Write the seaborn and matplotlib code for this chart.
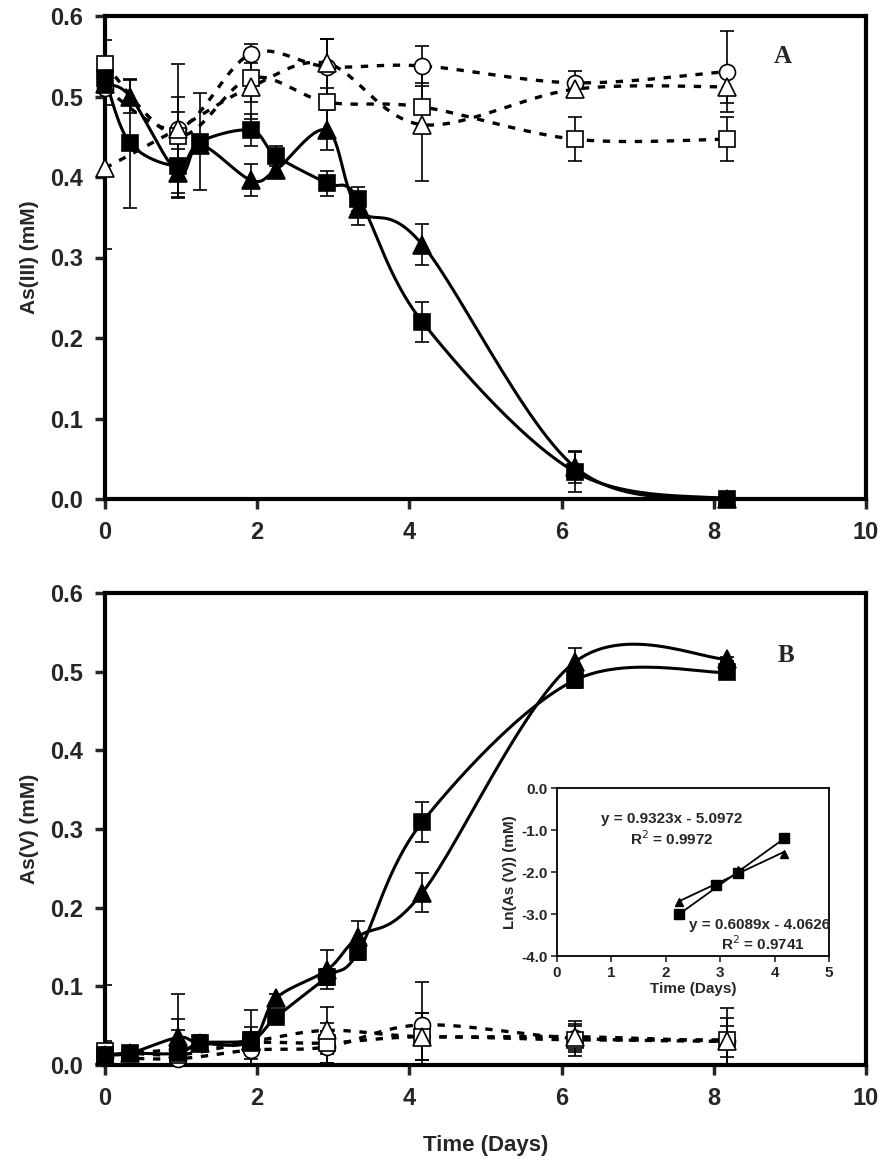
import numpy as np
import matplotlib
matplotlib.use("Agg")
import matplotlib.pyplot as plt
import seaborn as sns
import pandas as pd

# ---------------- data ----------------
t_fill = [0, 0.33, 0.96, 1.25, 1.92, 2.25, 2.92, 3.33, 4.17, 6.17, 8.17]
t_open = [0, 0.96, 1.92, 2.92, 4.17, 6.17, 8.17]

# Panel A : As(III)
A_sq = [0.523, 0.442, 0.414, 0.444, 0.458, 0.426, 0.392, 0.373, 0.220, 0.034, 0.0]
A_sq_err = [0.01, 0.08, 0.04, 0.06, 0.02, 0.012, 0.015, 0.015, 0.025, 0.025, 0.003]
A_tri = [0.515, 0.500, 0.405, 0.440, 0.396, 0.409, 0.458, 0.360, 0.316, 0.040, 0.0]
A_tri_err = [0.01, 0.02, 0.03, 0.01, 0.02, 0.008, 0.025, 0.02, 0.025, 0.02, 0.003]
A_oc = [0.510, 0.460, 0.553, 0.537, 0.538, 0.517, 0.531]
A_oc_err = [0.02, 0.08, 0.012, 0.035, 0.025, 0.015, 0.05]
A_os = [0.540, 0.451, 0.523, 0.493, 0.487, 0.447, 0.447]
A_os_err = [0.03, 0.03, 0.03, 0.04, 0.03, 0.027, 0.027]
A_ot = [0.411, 0.460, 0.512, 0.541, 0.465, 0.509, 0.512]
A_ot_err = [0.1, 0.04, 0.04, 0.03, 0.07, 0.01, 0.02]

# Panel B : As(V)
B_sq = [0.013, 0.015, 0.015, 0.028, 0.032, 0.061, 0.112, 0.144, 0.309, 0.489, 0.499]
B_sq_err = [0.005, 0.005, 0.008, 0.01, 0.01, 0.008, 0.01, 0.01, 0.025, 0.01, 0.003]
B_tri = [0.013, 0.015, 0.035, 0.028, 0.030, 0.085, 0.121, 0.163, 0.219, 0.512, 0.516]
B_tri_err = [0.005, 0.005, 0.01, 0.01, 0.01, 0.005, 0.025, 0.02, 0.025, 0.018, 0.003]
B_oc = [0.010, 0.008, 0.019, 0.023, 0.051, 0.034, 0.030]
B_oc_err = [0.02, 0.05, 0.02, 0.02, 0.055, 0.015, 0.02]
B_os = [0.018, 0.013, 0.028, 0.028, 0.036, 0.032, 0.032]
B_os_err = [0.01, 0.01, 0.02, 0.025, 0.03, 0.02, 0.04]
B_ot = [0.012, 0.020, 0.030, 0.044, 0.036, 0.036, 0.030]
B_ot_err = [0.09, 0.07, 0.04, 0.03, 0.03, 0.02, 0.03]

# Inset : ln(As(V))
t_ln = [2.25, 2.92, 3.33, 4.17]
ln_sq = [-3.0, -2.3, -2.02, -1.2]
ln_tri = [-2.72, -2.30, -1.95, -1.57]
fit_sq = (0.9323, -5.0972)
fit_tri = (0.6089, -4.0626)

x_ticks = [0, 2, 4, 6, 8, 10]
y_ticks = [0.0, 0.1, 0.2, 0.3, 0.4, 0.5, 0.6]
ins_x_ticks = [0, 1, 2, 3, 4, 5]
ins_y_ticks = [0.0, -1.0, -2.0, -3.0, -4.0]

# ---------------- style ----------------
sns.set_style("ticks")
plt.rcParams['font.family'] = ['Liberation Sans', 'DejaVu Sans']

NARROW = ['Liberation Sans Narrow', 'Liberation Sans', 'DejaVu Sans']
BOLD_SANS = ['Liberation Sans', 'DejaVu Sans']
SERIF = ['Liberation Serif', 'DejaVu Serif']


def smooth(x, y, n=30):
    """Excel-style Bezier smoothing of a polyline."""
    x = np.asarray(x, float)
    y = np.asarray(y, float)
    P = np.column_stack([x, y])
    Pext = np.vstack([P[0], P, P[-1]])
    out = []
    s = np.linspace(0, 1, n)
    for i in range(len(P) - 1):
        p0 = Pext[i + 1]
        p3 = Pext[i + 2]
        c1 = p0 + (Pext[i + 2] - Pext[i]) / 6.0
        c2 = p3 - (Pext[i + 3] - Pext[i + 1]) / 6.0
        seg = ((1 - s) ** 3)[:, None] * p0 + (3 * (1 - s) ** 2 * s)[:, None] * c1 \
            + (3 * (1 - s) * s ** 2)[:, None] * c2 + (s ** 3)[:, None] * p3
        out.append(seg if i == 0 else seg[1:])
    out = np.vstack(out)
    return pd.DataFrame({"x": out[:, 0], "y": out[:, 1]})


def series(ax, t, y, err, marker, filled, dashed):
    df = smooth(t, y)
    sns.lineplot(data=df, x="x", y="y", sort=False, ax=ax, color="black",
                 lw=2.2 if not dashed else 2.4,
                 linestyle=(0, (2.2, 2.6)) if dashed else "-", legend=False,
                 zorder=2)
    ax.errorbar(t, y, yerr=err, fmt="none", ecolor="black", elinewidth=1.2,
                capsize=5, capthick=1.2, zorder=3, clip_on=True)
    sz = 11.5 if marker != "^" else 12.5
    ax.plot(t, y, linestyle="none", marker=marker, ms=sz,
            mfc="black" if filled else "white", mec="black", mew=1.2,
            zorder=4, clip_on=False)


def style_main(ax, ylabel):
    ax.set_xlim(0, 10)
    ax.set_ylim(0, 0.6)
    ax.set_xticks(x_ticks)
    ax.set_yticks(y_ticks)
    ax.set_xticklabels([str(v) for v in x_ticks], family=NARROW,
                       fontweight="bold", fontsize=17)
    ax.set_yticklabels([f"{v:.1f}" for v in y_ticks], family=NARROW,
                       fontweight="bold", fontsize=17)
    for sp in ax.spines.values():
        sp.set_visible(True)
        sp.set_linewidth(3)
        sp.set_color("black")
    ax.tick_params(direction="out", length=7, width=2.5, pad=9)
    ax.set_xlabel("")
    ax.set_ylabel(ylabel, family=BOLD_SANS, fontweight="bold", fontsize=15,
                  labelpad=8)


fig = plt.figure(figsize=(8.94, 11.75), dpi=100)
axA = fig.add_axes([105 / 894, 1 - 499 / 1175, 761 / 894, 483 / 1175])
axB = fig.add_axes([105 / 894, 1 - 1065 / 1175, 761 / 894, 472 / 1175])

# Panel A
series(axA, t_open, A_oc, A_oc_err, "o", False, True)
series(axA, t_open, A_os, A_os_err, "s", False, True)
series(axA, t_open, A_ot, A_ot_err, "^", False, True)
series(axA, t_fill, A_tri, A_tri_err, "^", True, False)
series(axA, t_fill, A_sq, A_sq_err, "s", True, False)
style_main(axA, "As(III) (mM)")
axA.text(8.9, 0.55, "A", family=SERIF, fontweight="bold", fontsize=18,
         ha="center", va="center")

# Panel B
series(axB, t_open, B_oc, B_oc_err, "o", False, True)
series(axB, t_open, B_os, B_os_err, "s", False, True)
series(axB, t_open, B_ot, B_ot_err, "^", False, True)
series(axB, t_fill, B_tri, B_tri_err, "^", True, False)
series(axB, t_fill, B_sq, B_sq_err, "s", True, False)
style_main(axB, "As(V) (mM)")
axB.text(8.95, 0.52, "B", family=SERIF, fontweight="bold", fontsize=18,
         ha="center", va="center")
axB.set_xlabel("Time (Days)", family=BOLD_SANS, fontweight="bold",
               fontsize=16, labelpad=18)

# Inset
axI = fig.add_axes([557 / 894, 1 - 956 / 1175, 272 / 894, 168 / 1175])
axI.set_facecolor("white")
for (a, b), yy, mk, ms in [(fit_sq, ln_sq, "s", 7), (fit_tri, ln_tri, "^", 6)]:
    xs = np.array([min(t_ln), max(t_ln)])
    sns.lineplot(x=xs, y=a * xs + b, ax=axI, color="black", lw=1.3,
                 legend=False)
    axI.plot(t_ln, yy, linestyle="none", marker=mk, ms=ms, color="black")
axI.set_xlim(0, 5)
axI.set_ylim(-4, 0)
axI.set_xticks(ins_x_ticks)
axI.set_yticks(ins_y_ticks)
axI.set_xticklabels([str(v) for v in ins_x_ticks], fontweight="bold",
                    fontsize=11)
axI.set_yticklabels([f"{v:.1f}" for v in ins_y_ticks], fontweight="bold",
                    fontsize=11)
for sp in axI.spines.values():
    sp.set_visible(True)
    sp.set_linewidth(1.3)
    sp.set_color("black")
axI.tick_params(direction="out", length=4, width=1.2, pad=3)
axI.set_xlabel("Time (Days)", fontweight="bold", fontsize=11, labelpad=2)
axI.set_ylabel("Ln(As (V)) (mM)", fontweight="bold", fontsize=11,
               labelpad=3)
axI.text(2.11, -0.74, "y = 0.9323x - 5.0972", fontweight="bold",
         fontsize=11, ha="center", va="center")
axI.text(2.11, -1.21, "R$^2$ = 0.9972", fontweight="bold", fontsize=11,
         ha="center", va="center")
axI.text(3.73, -3.26, "y = 0.6089x - 4.0626", fontweight="bold",
         fontsize=11, ha="center", va="center")
axI.text(3.79, -3.71, "R$^2$ = 0.9741", fontweight="bold", fontsize=11,
         ha="center", va="center")

fig.savefig("out.png", dpi=100, facecolor="white")
